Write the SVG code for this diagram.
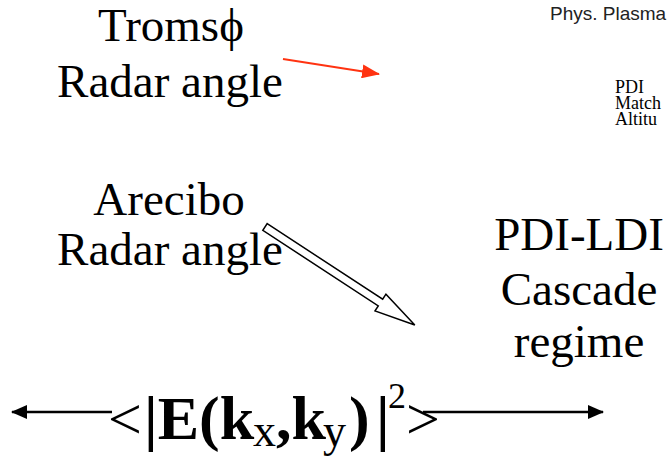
<svg xmlns="http://www.w3.org/2000/svg" width="667" height="459" viewBox="0 0 667 459">
<style>
.t{font-family:"Liberation Serif","Times New Roman",serif;fill:#000;}
.lbl{font-size:47px;text-anchor:middle;}
.small{font-size:18px;}
.ref{font-family:"Liberation Sans",Arial,sans-serif;font-size:19px;fill:#222;}
.f{font-size:62px;}
.b{font-weight:bold;}
.sub{font-size:46px;font-weight:normal;}
.sup{font-size:36px;font-weight:normal;}
</style>
<defs>
<marker id="red" markerWidth="18" markerHeight="14" refX="17" refY="7" orient="auto" markerUnits="userSpaceOnUse">
<path d="M0,0 L18,7 L0,14 Z" fill="#ff3311"/>
</marker>
<marker id="blk" markerWidth="16" markerHeight="14" refX="15" refY="7" orient="auto-start-reverse" markerUnits="userSpaceOnUse">
<path d="M0,0 L16,7 L0,14 Z" fill="#000"/>
</marker>
</defs>
<rect width="667" height="459" fill="#fff"/>
<g id="tromso">
<text class="t lbl" x="171" y="41">Tromsϕ</text>
<text class="t lbl" x="170" y="97">Radar angle</text>
</g>
<g id="arecibo">
<text class="t lbl" x="169" y="215">Arecibo</text>
<text class="t lbl" x="170" y="265">Radar angle</text>
</g>
<g id="cascade">
<text class="t lbl" x="579" y="250">PDI-LDI</text>
<text class="t lbl" x="579" y="305">Cascade</text>
<text class="t lbl" x="579" y="357">regime</text>
</g>
<g id="reference">
<text class="ref" x="550" y="20">Phys. Plasma</text>
<text class="t small" x="615" y="93">PDI</text>
<text class="t small" x="615" y="109">Match</text>
<text class="t small" x="615" y="125">Altitu</text>
</g>
<g id="spectrum">
<text class="t f" y="439"><tspan x="108" font-size="60">&lt;</tspan><tspan class="b" x="144">|E(k</tspan><tspan class="sub" x="253" y="446">x</tspan><tspan class="b" x="276" y="439">,k</tspan><tspan class="sub" x="323" y="446">y</tspan><tspan class="b" x="349" y="439">)</tspan><tspan class="b" x="376">|</tspan><tspan class="sup" x="388" y="408">2</tspan><tspan x="406" y="439" font-size="60">&gt;</tspan></text>
</g>
<g id="connectors">
<line x1="283" y1="59" x2="379" y2="74" stroke="#ff3311" stroke-width="2" marker-end="url(#red)"/>
<line x1="12" y1="412" x2="112" y2="412" stroke="#000" stroke-width="2.5" marker-start="url(#blk)"/>
<line x1="423" y1="412" x2="603" y2="412" stroke="#000" stroke-width="2.5" marker-end="url(#blk)"/>
<polygon transform="translate(265,227) rotate(33.2)" points="0,-4 138,-4 138,-10 179,0 138,10 138,4 0,4" fill="#fff" stroke="#000" stroke-width="1.5"/>
</g>
</svg>
